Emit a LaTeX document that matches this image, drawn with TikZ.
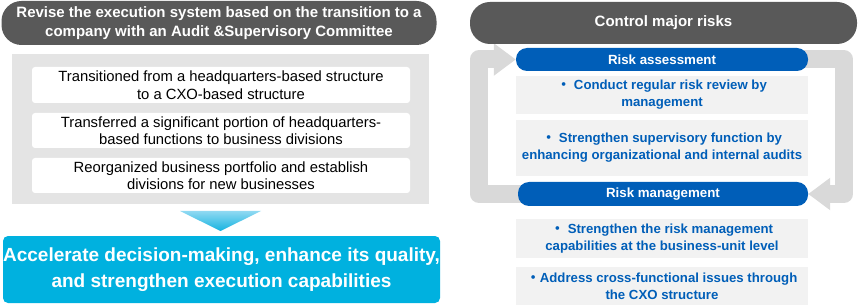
\documentclass[tikz,border=0pt]{standalone}
\usepackage{fontspec}
\setmainfont{Liberation Sans}
\newfontfamily\cjk{Noto Sans CJK JP}
\usetikzlibrary{arrows.meta,backgrounds}
\definecolor{hdrgray}{HTML}{595959}
\definecolor{panelgray}{HTML}{E4E4E4}
\definecolor{ptgray}{HTML}{F2F2F2}
\definecolor{loopgray}{HTML}{D9D9D9}
\definecolor{riskblue}{HTML}{005EB8}
\definecolor{goalcyan}{HTML}{00B1DF}
\definecolor{tritop}{HTML}{8FD9F2}
\definecolor{tribot}{HTML}{14B3E0}
\newcommand{\rkdot}{{\cjk ・}}

\begin{document}
\begin{tikzpicture}[x=1pt, y=-1pt,
    hdr/.style={fill=hdrgray, text=white, rounded corners=20pt, align=center, inner sep=0pt,
        font=\bfseries\fontsize{15}{19.5}\selectfont},
    change/.style={fill=white, rounded corners=3pt, align=center, inner sep=0pt,
        minimum width=378pt, font=\fontsize{14.8}{17.5}\selectfont},
    pill/.style={fill=riskblue, text=white, rounded corners=11pt, inner sep=0pt,
        minimum width=292pt, minimum height=23pt, font=\bfseries\fontsize{13.3}{16}\selectfont},
    riskpt/.style={fill=ptgray, text=riskblue, align=center, inner sep=0pt,
        minimum width=292pt, font=\bfseries\fontsize{13.2}{17}\selectfont},
    cyclearrow/.style={draw=loopgray, line width=18pt, line join=round,
        -{Triangle[length=22pt, width=31pt]}}]
    \useasboundingbox (0,0) rectangle (859,307);

    % left column
    \node[hdr, minimum width=435pt, minimum height=44pt] (revise) at (219,23)
        {Revise the execution system based on the transition to a\\company with an Audit \&Supervisory Committee};
    \node[fill=panelgray, minimum width=417pt, minimum height=150pt, inner sep=0pt] (panel) at (220.5,129) {};
    \node[change, minimum height=36pt] (cxo) at (221,85)
        {Transitioned from a headquarters-based structure\\to a CXO-based structure};
    \node[change, minimum height=35pt] (transfer) at (221,130.5)
        {Transferred a significant portion of headquarters-\\based functions to business divisions};
    \node[change, minimum height=35pt] (reorg) at (221,175.5)
        {Reorganized business portfolio and establish\\divisions for new businesses};

    \coordinate (triL) at (180,211);
    \coordinate (triR) at (261,211);
    \coordinate (triTip) at (220.5,231);
    \shade[top color=tritop, bottom color=tribot] (triL) -- (triR) -- (triTip) -- cycle;

    \node[fill=goalcyan, text=white, rounded corners=5pt, minimum width=437pt, minimum height=67pt,
        inner sep=0pt, align=center, font=\bfseries\fontsize{19}{26}\selectfont] (goal) at (221.5,269.5)
        {Accelerate decision-making, enhance its quality,\\and strengthen execution capabilities};

    % right column
    \node[hdr, minimum width=387pt, minimum height=42pt] (control) at (663.5,23) {Control major risks};
    \node[pill] (assess) at (662,59.5) {Risk assessment};
    \node[riskpt, minimum height=38pt] (review) at (662,95)
        {\rkdot\ Conduct regular risk review by\\management};
    \node[riskpt, minimum height=56pt] (audit) at (662,148)
        {\rkdot\ Strengthen supervisory function by\\enhancing organizational and internal audits};
    \node[pill, minimum width=290pt, minimum height=24pt] (mgmt) at (663,194) {Risk management};
    \node[riskpt, minimum height=39pt] (unit) at (662,238.5)
        {\rkdot\ Strengthen the risk management\\capabilities at the business-unit level};
    \node[riskpt, minimum height=38pt] (cross) at (662,286)
        {\rkdot Address cross-functional issues through\\the CXO structure};

    \begin{scope}[on background layer]
        \draw[cyclearrow] ([xshift=4pt]mgmt.west) -| ([xshift=-37pt]assess.west) -- (assess.west);
        \draw[cyclearrow] ([xshift=-4pt]assess.east) -| ([xshift=36pt]mgmt.east) -- (mgmt.east);
    \end{scope}
\end{tikzpicture}
\end{document}
